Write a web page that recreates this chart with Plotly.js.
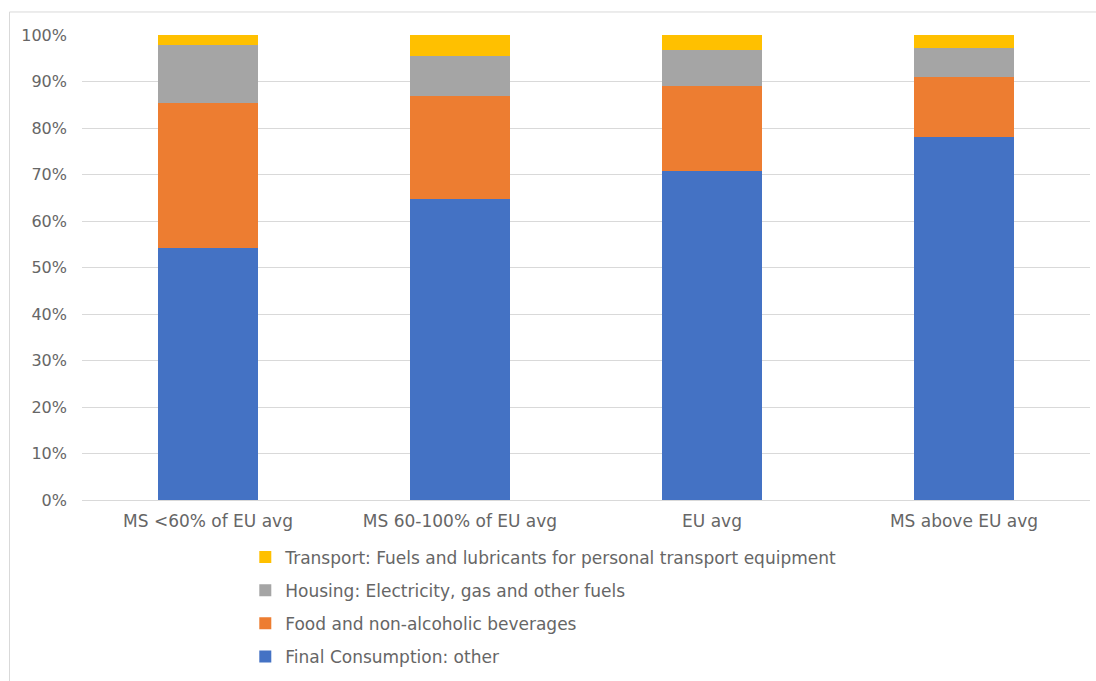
<!DOCTYPE html>
<html>
<head>
<meta charset="utf-8">
<script src="https://cdn.plot.ly/plotly-3.0.1.min.js"></script>
<style>html,body{margin:0;padding:0;background:#fff;}#chart{width:1096px;height:681px;}</style>
</head>
<body>
<div id="chart"></div>
<script>
const categories = ["MS <60% of EU avg", "MS 60-100% of EU avg", "EU avg", "MS above EU avg"];
const finalOther = [54.1, 64.7, 70.8, 78.1];
const food = [31.3, 22.1, 18.3, 12.9];
const housing = [12.4, 8.7, 7.7, 6.2];
const transport = [2.2, 4.5, 3.2, 2.8];
const seriesNames = [
  "Final Consumption: other",
  "Food and non-alcoholic beverages",
  "Housing: Electricity, gas and other fuels",
  "Transport: Fuels and lubricants for personal transport equipment"
];
const colors = ["#4472C4", "#ED7D31", "#A5A5A5", "#FFC000"];
const series = [finalOther, food, housing, transport];

const traces = series.map((vals, i) => ({
  type: "bar",
  x: categories,
  y: vals,
  name: seriesNames[i],
  legendgroup: "g" + i,
  legendrank: 1000 - i,
  marker: {color: colors[i], line: {width: 0}},
  hoverinfo: "x+y+name"
}));

const fam = "'DejaVu Sans', sans-serif";
const font = {family: fam, size: 17, color: "#666666"};
const yfont = {family: fam, size: 16, color: "#666666"};

const layout = {
  width: 1096, height: 681,
  barmode: "stack",
  bargap: 0.6,
  paper_bgcolor: "#fff", plot_bgcolor: "#fff",
  margin: {l: 82, r: 6, t: 35, b: 181},
  font: font,
  xaxis: {
    showgrid: false, showline: false, zeroline: false,
    ticks: "", tickfont: font, ticklabelstandoff: 9
  },
  yaxis: {
    range: [0, 100], dtick: 10, ticksuffix: "%",
    showgrid: true, gridcolor: "#d9d9d9", gridwidth: 1,
    zeroline: true, zerolinecolor: "#d9d9d9", zerolinewidth: 1,
    showline: false, ticks: "", tickfont: yfont,
    ticklabelstandoff: 14
  },
  legend: {
    orientation: "v", traceorder: "grouped",
    x: 0.162, xanchor: "left", y: -0.085, yanchor: "top",
    font: font, tracegroupgap: 8, itemwidth: 30
  },
  shapes: [{
    type: "rect", xref: "paper", yref: "paper",
    x0: -0.0719, x1: 1.02, y0: -0.5, y1: 1.0495,
    line: {color: "#d9d9d9", width: 1}, fillcolor: "rgba(0,0,0,0)", layer: "below"
  }],
  showlegend: true
};

Plotly.newPlot("chart", traces, layout, {displayModeBar: false, staticPlot: true});
</script>
</body>
</html>
